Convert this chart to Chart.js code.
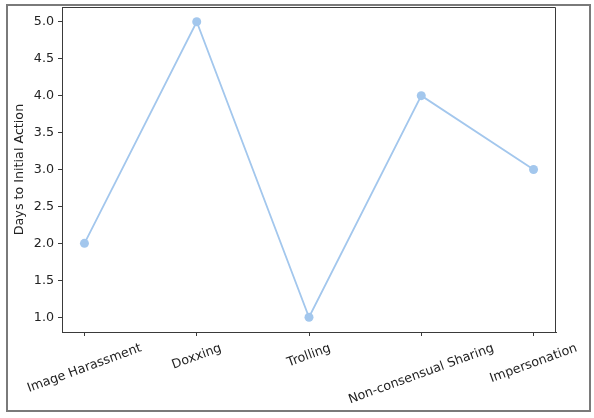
<!DOCTYPE html>
<html lang="en">
<head>
  <meta charset="UTF-8">
  <title>Days to Initial Action</title>
  <script src="https://cdn.jsdelivr.net/npm/chart.js"></script>
  <style>
    body {
      margin: 0;
      background: #ffffff;
    }
    .frame {
      position: absolute;
      left: 6px;
      top: 4px;
      width: 585px;
      height: 408px;
      box-sizing: border-box;
      border: 2px solid #7a7a7a;
    }
    #chart {
      position: absolute;
      left: 0;
      top: 0;
    }
  </style>
</head>
<body>

<div class="frame"></div>
<canvas id="chart" width="594" height="418"></canvas>

<script>
  const categories = ['Image Harassment', 'Doxxing', 'Trolling', 'Non-consensual Sharing', 'Impersonation'];
  const days = [2, 5, 1, 4, 3];
  const yTicks = [1.0, 1.5, 2.0, 2.5, 3.0, 3.5, 4.0, 4.5, 5.0];
  const xTicks = [0, 1, 2, 3, 4];

  const FONT = '"DejaVu Sans", sans-serif';
  const FONT_SIZE = 12.7;
  const lineColor = '#a3c7ed';
  const spineColor = '#3a3a3a';

  // matplotlib style x labels: rotated 20deg, centred under the tick
  const xLabels = {
    id: 'xLabels',
    afterDraw(chart) {
      const xs = chart.scales.x;
      const ctx = chart.ctx;
      const ang = 20 * Math.PI / 180;
      ctx.save();
      ctx.font = FONT_SIZE + 'px ' + FONT;
      ctx.fillStyle = '#222';
      ctx.textAlign = 'center';
      ctx.textBaseline = 'middle';
      xTicks.forEach((v, i) => {
        const label = categories[i];
        const w = ctx.measureText(label).width;
        const h = 14.5;
        const bh = w * Math.sin(ang) + h * Math.cos(ang);
        const cx = xs.getPixelForValue(v);
        const cy = xs.top + 9 + bh / 2;
        ctx.save();
        ctx.translate(cx, cy);
        ctx.rotate(-ang);
        ctx.fillText(label, 0, 0);
        ctx.restore();
      });
      ctx.restore();
    }
  };

  // top and right spines (left/bottom come from the axis borders)
  const spines = {
    id: 'spines',
    afterDraw(chart) {
      const a = chart.chartArea;
      const ctx = chart.ctx;
      const l = Math.round(a.left) + 0.5, r = Math.round(a.right) - 0.5;
      const t = Math.round(a.top) + 0.5, b = Math.round(a.bottom) + 0.5;
      ctx.save();
      ctx.strokeStyle = spineColor;
      ctx.lineWidth = 1;
      ctx.beginPath();
      ctx.moveTo(l, t);
      ctx.lineTo(r, t);
      ctx.lineTo(r, b);
      ctx.stroke();
      ctx.restore();
    }
  };

  const ctx = document.getElementById('chart').getContext('2d');
  new Chart(ctx, {
    type: 'line',
    data: {
      datasets: [{
        data: days.map((v, i) => ({ x: i, y: v })),
        borderColor: lineColor,
        backgroundColor: lineColor,
        borderWidth: 1.8,
        pointRadius: 4.5,
        pointHoverRadius: 4.5,
        pointBorderWidth: 0,
        tension: 0
      }]
    },
    options: {
      responsive: false,
      animation: false,
      devicePixelRatio: 1,
      layout: { padding: { top: 7, right: 38, left: 0, bottom: 0 } },
      plugins: { legend: { display: false }, tooltip: { enabled: false } },
      scales: {
        x: {
          type: 'linear',
          min: -0.2,
          max: 4.2,
          afterBuildTicks: s => { s.ticks = xTicks.map(v => ({ value: v })); },
          afterFit: s => { s.height = 86; s.paddingLeft = 0; s.paddingRight = 0; },
          grid: { drawOnChartArea: false, drawTicks: true, tickLength: 4, color: spineColor, lineWidth: 1 },
          border: { display: true, color: spineColor, width: 1 },
          ticks: { display: false }
        },
        y: {
          min: 0.8,
          max: 5.2,
          afterBuildTicks: s => { s.ticks = yTicks.map(v => ({ value: v })); },
          afterFit: s => { s.width = 62; s.paddingTop = 0; s.paddingBottom = 0; },
          grid: { drawOnChartArea: false, drawTicks: true, tickLength: 4, color: spineColor, lineWidth: 1 },
          border: { display: true, color: spineColor, width: 1 },
          ticks: {
            padding: 4,
            color: '#222',
            font: { family: FONT, size: FONT_SIZE },
            callback: v => Number(v).toFixed(1)
          },
          title: {
            display: true,
            text: 'Days to Initial Action',
            color: '#222',
            font: { family: FONT, size: FONT_SIZE },
            padding: { top: 12, bottom: 4 }
          }
        }
      }
    },
    plugins: [xLabels, spines]
  });
</script>

</body>
</html>
